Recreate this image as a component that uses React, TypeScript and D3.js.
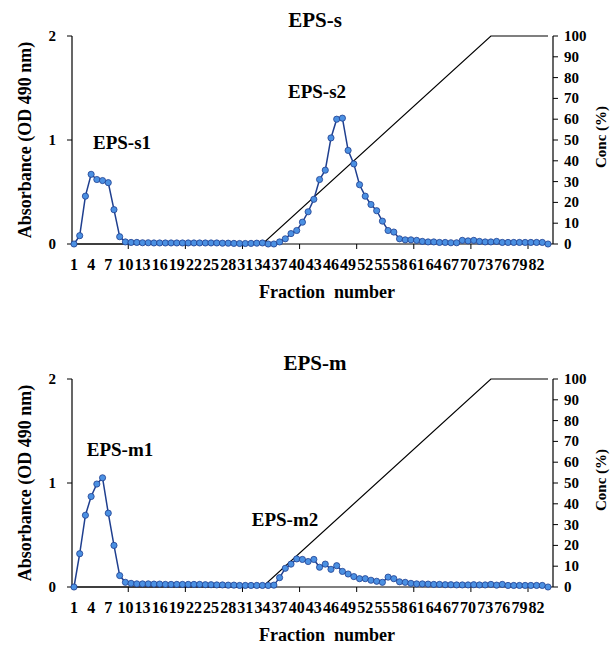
import React from 'react';
import * as d3 from 'd3';

// fraction numbers 1..84
const fractions = d3.range(1, 85);

// absorbance (OD 490 nm), one value per fraction
const epsS = [
  0.00, 0.08, 0.46, 0.67, 0.62, 0.61, 0.59, 0.33, 0.07, 0.02,
  0.015, 0.015, 0.012, 0.012, 0.01, 0.01, 0.01, 0.01, 0.01, 0.01,
  0.01, 0.01, 0.01, 0.01, 0.01, 0.01, 0.008, 0.008, 0.006, 0.005,
  0.005, 0.006, 0.008, 0.01, 0.0, 0.0, 0.02, 0.05, 0.10, 0.13,
  0.21, 0.31, 0.43, 0.62, 0.71, 1.02, 1.20, 1.21, 0.90, 0.77,
  0.57, 0.46, 0.38, 0.32, 0.22, 0.13, 0.115, 0.05, 0.04, 0.04,
  0.035, 0.025, 0.02, 0.02, 0.015, 0.015, 0.012, 0.012, 0.035, 0.03,
  0.035, 0.025, 0.02, 0.02, 0.025, 0.015, 0.015, 0.015, 0.015, 0.015,
  0.015, 0.015, 0.015, 0.0,
];

const epsM = [
  0.00, 0.32, 0.69, 0.87, 0.99, 1.05, 0.71, 0.40, 0.11, 0.045,
  0.035, 0.03, 0.03, 0.03, 0.028, 0.028, 0.025, 0.025, 0.025, 0.025,
  0.025, 0.025, 0.025, 0.022, 0.022, 0.02, 0.02, 0.018, 0.018, 0.015,
  0.015, 0.015, 0.015, 0.015, 0.015, 0.018, 0.09, 0.18, 0.22, 0.27,
  0.265, 0.245, 0.265, 0.19, 0.22, 0.17, 0.205, 0.15, 0.125, 0.10,
  0.08, 0.08, 0.065, 0.055, 0.045, 0.095, 0.08, 0.05, 0.045, 0.035,
  0.03, 0.03, 0.028, 0.025, 0.025, 0.022, 0.022, 0.02, 0.02, 0.02,
  0.022, 0.02, 0.02, 0.025, 0.018, 0.025, 0.015, 0.015, 0.015, 0.015,
  0.015, 0.015, 0.015, 0.0,
];

// NaCl gradient breakpoints (fraction, conc %)
const concFractions = [1, 34, 74, 84];
const concValues = [0, 0, 100, 100];

const xLabels = d3.range(1, 83, 3); // 1, 4, 7 ... 82
const xTickMarks = [10.5, 20.5, 30.5, 40.5, 50.5, 60.5, 70.5, 80.5];
const absTicks = [0, 1, 2];
const concTicks = d3.range(0, 101, 10);

const panels = [
  { title: 'EPS-s', values: epsS, peaks: [{ label: 'EPS-s1', x: 122, y: 149 }, { label: 'EPS-s2', x: 317, y: 98 }] },
  { title: 'EPS-m', values: epsM, peaks: [{ label: 'EPS-m1', x: 120, y: 456 }, { label: 'EPS-m2', x: 285, y: 526 }] },
];

const W = 611;
const H = 646;
const FONT = '"Liberation Serif", "Times New Roman", serif';
const LINE = '#1f3f8f';
const DOT = '#4b90e2';

function Panel({ top, title, values, peaks }) {
  const yTop = top;
  const yBottom = top + 208;
  const axisL = 72;
  const axisR = 553;

  const x = d3.scaleLinear().domain([1, 84]).range([74, 548]);
  const yAbs = d3.scaleLinear().domain([0, 2]).range([yBottom, yTop]);
  const yConc = d3.scaleLinear().domain([0, 100]).range([yBottom, yTop]);

  const absLine = d3.line<number>()
    .x((d, i) => x(fractions[i]))
    .y(d => yAbs(d));

  const concLine = d3.line<number>()
    .x((d, i) => x(concFractions[i]))
    .y(d => yConc(d));

  const midY = (yTop + yBottom) / 2;

  return (
    <g fontFamily={FONT} fontWeight="bold">
      <text x={315} y={top - 9} textAnchor="middle" fontSize={21}>{title}</text>

      {/* left axis */}
      <line x1={axisL} x2={axisL} y1={yTop} y2={yBottom} stroke="#000" strokeWidth={1.2} />
      {absTicks.map(t => (
        <g key={'a' + t}>
          <line x1={axisL - 5} x2={axisL} y1={yAbs(t)} y2={yAbs(t)} stroke="#000" />
          <text x={56} y={yAbs(t) + 5} textAnchor="end" fontSize={15}>{t}</text>
        </g>
      ))}
      <text transform={`translate(31,${midY}) rotate(-90)`} textAnchor="middle" fontSize={18}>
        Absorbance  (OD 490 nm)
      </text>

      {/* right axis */}
      <line x1={axisR} x2={axisR} y1={yTop} y2={yBottom} stroke="#000" strokeWidth={1.2} />
      {concTicks.map(t => (
        <g key={'c' + t}>
          <line x1={axisR} x2={axisR + 5} y1={yConc(t)} y2={yConc(t)} stroke="#000" />
          <text x={564} y={yConc(t) + 5} fontSize={15}>{t}</text>
        </g>
      ))}
      <text transform={`translate(606,${midY - 3}) rotate(-90)`} textAnchor="middle" fontSize={15}>
        Conc (%)
      </text>

      {/* x axis */}
      <line x1={axisL} x2={axisR} y1={yBottom} y2={yBottom} stroke="#000" strokeWidth={1.2} />
      {xTickMarks.map(t => (
        <line key={'m' + t} x1={x(t)} x2={x(t)} y1={yBottom} y2={yBottom + 5} stroke="#000" />
      ))}
      {xLabels.map(f => (
        <text key={'l' + f} x={x(f)} y={yBottom + 26} textAnchor="middle" fontSize={16}>{f}</text>
      ))}
      <text x={327} y={yBottom + 54} textAnchor="middle" fontSize={18} style={{ whiteSpace: 'pre' }}>
        Fraction  number
      </text>

      {/* gradient line */}
      <path d={concLine(concValues) || ''} fill="none" stroke="#000" strokeWidth={1.2} />

      {/* absorbance profile */}
      <path d={absLine(values) || ''} fill="none" stroke={LINE} strokeWidth={1.5} />
      {values.map((v, i) => (
        <circle key={i} cx={x(fractions[i])} cy={yAbs(v)} r={3.1} fill={DOT} stroke={LINE} strokeWidth={0.8} />
      ))}

      {peaks.map(p => (
        <text key={p.label} x={p.x} y={p.y} textAnchor="middle" fontSize={19}>{p.label}</text>
      ))}
    </g>
  );
}

export default function App() {
  return (
    <svg width={W} height={H} style={{ position: 'absolute', left: 0, top: 0, background: '#fff' }}>
      <rect width={W} height={H} fill="#fff" />
      <Panel top={36} title={panels[0].title} values={panels[0].values} peaks={panels[0].peaks} />
      <Panel top={379} title={panels[1].title} values={panels[1].values} peaks={panels[1].peaks} />
    </svg>
  );
}
